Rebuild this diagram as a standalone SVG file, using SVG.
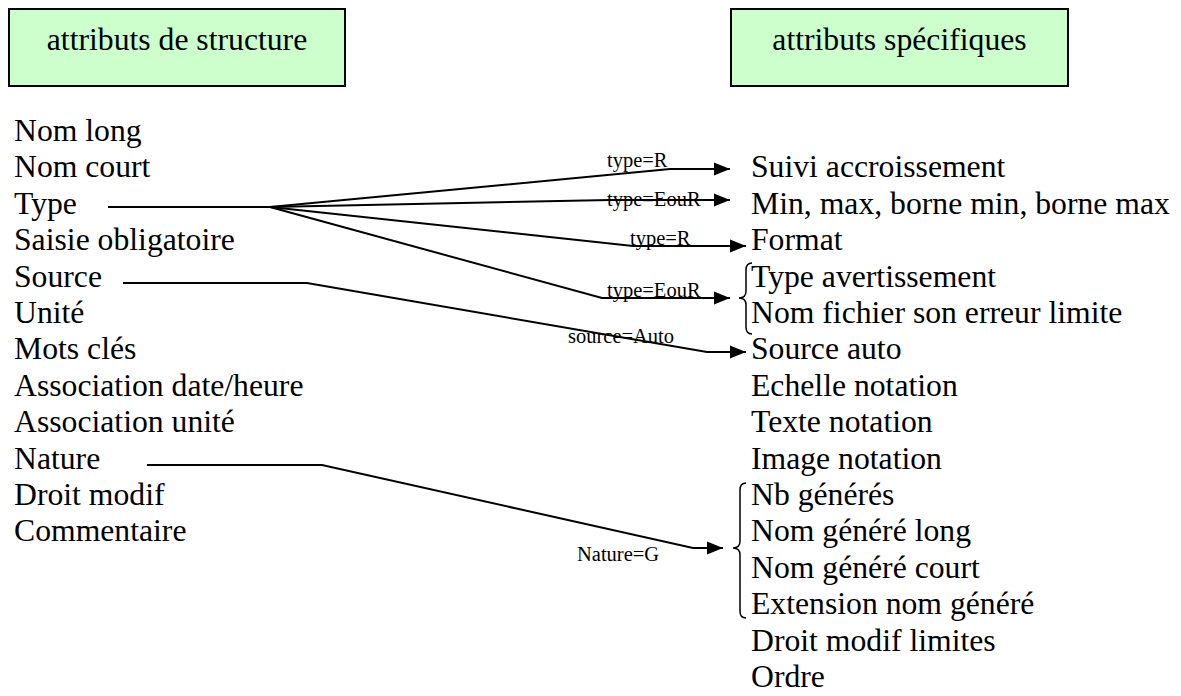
<svg xmlns="http://www.w3.org/2000/svg" width="1181" height="696" viewBox="0 0 1181 696" font-family="'Liberation Serif', 'Times New Roman', Tinos, 'DejaVu Serif', serif">
<style>
text{font-family:'Liberation Serif','Times New Roman',Tinos,'DejaVu Serif',serif;fill:#000}
.t{font-size:31.7px}
.l{font-size:20.5px}
.box{fill:#CCFFCC;stroke:#000;stroke-width:2}
.c{fill:none;stroke:#000;stroke-width:2}
.br{fill:none;stroke:#000;stroke-width:1.5}
</style>
<defs>
<marker id="ah" markerWidth="17" markerHeight="14" refX="16" refY="7" orient="auto" markerUnits="userSpaceOnUse">
<path d="M0,0.5 L16,7 L0,13.5 Z" fill="#000"/>
</marker>
</defs>
<g id="node-structure">
<rect class="box" x="9" y="9" width="336" height="77"/>
<text class="t" x="177" y="50" text-anchor="middle">attributs de structure</text>
</g>
<g id="node-specifiques">
<rect class="box" x="731" y="9" width="337" height="77"/>
<text class="t" x="899.5" y="50" text-anchor="middle">attributs spécifiques</text>
</g>
<g id="left-list">
<text class="t" x="14" y="141">Nom long</text>
<text class="t" x="14" y="177.4">Nom court</text>
<text class="t" x="14" y="213.8">Type</text>
<text class="t" x="14" y="250.2">Saisie obligatoire</text>
<text class="t" x="14" y="286.6">Source</text>
<text class="t" x="14" y="323">Unité</text>
<text class="t" x="14" y="359.4">Mots clés</text>
<text class="t" x="14" y="395.8">Association date/heure</text>
<text class="t" x="14" y="432.2">Association unité</text>
<text class="t" x="14" y="468.6">Nature</text>
<text class="t" x="14" y="505">Droit modif</text>
<text class="t" x="14" y="541.4">Commentaire</text>
</g>
<g id="right-list">
<text class="t" x="751" y="177.4">Suivi accroissement</text>
<text class="t" x="751" y="213.8">Min, max, borne min, borne max</text>
<text class="t" x="751" y="250.2">Format</text>
<text class="t" x="751" y="286.6">Type avertissement</text>
<text class="t" x="751" y="323">Nom fichier son erreur limite</text>
<text class="t" x="751" y="359.4">Source auto</text>
<text class="t" x="751" y="395.8">Echelle notation</text>
<text class="t" x="751" y="432.2">Texte notation</text>
<text class="t" x="751" y="468.6">Image notation</text>
<text class="t" x="751" y="505">Nb générés</text>
<text class="t" x="751" y="541.4">Nom généré long</text>
<text class="t" x="751" y="577.8">Nom généré court</text>
<text class="t" x="751" y="614.2">Extension nom généré</text>
<text class="t" x="751" y="650.6">Droit modif limites</text>
<text class="t" x="751" y="687">Ordre</text>
</g>
<g id="brackets">
<path class="br" d="M752,263 Q746,263 746,270 L746,291 Q746,298 739,298 Q746,298 746,305 L746,327 Q746,334 752,334"/>
<path class="br" d="M746,483 Q740,483 740,490 L740,541 Q740,548 733,548 Q740,548 740,555 L740,611 Q740,618 746,618"/>
</g>
<g id="connectors">
<polyline class="c" points="108,207 270,207"/>
<polyline class="c" points="270,207 670,169 730,169" marker-end="url(#ah)"/>
<polyline class="c" points="270,207 610,200 730,200" marker-end="url(#ah)"/>
<polyline class="c" points="270,207 633,246 746,246" marker-end="url(#ah)"/>
<polyline class="c" points="270,207 602,298 730,298" marker-end="url(#ah)"/>
<polyline class="c" points="123,283 307,283 707,352 746,352" marker-end="url(#ah)"/>
<polyline class="c" points="147,465 322,465 693,548 723,548" marker-end="url(#ah)"/>
</g>
<g id="labels">
<text class="l" x="607" y="167">type=R</text>
<text class="l" x="607" y="206">type=EouR</text>
<text class="l" x="630" y="245">type=R</text>
<text class="l" x="607" y="297">type=EouR</text>
<text class="l" x="568" y="343">source=Auto</text>
<text class="l" x="577" y="561">Nature=G</text>
</g>
</svg>
